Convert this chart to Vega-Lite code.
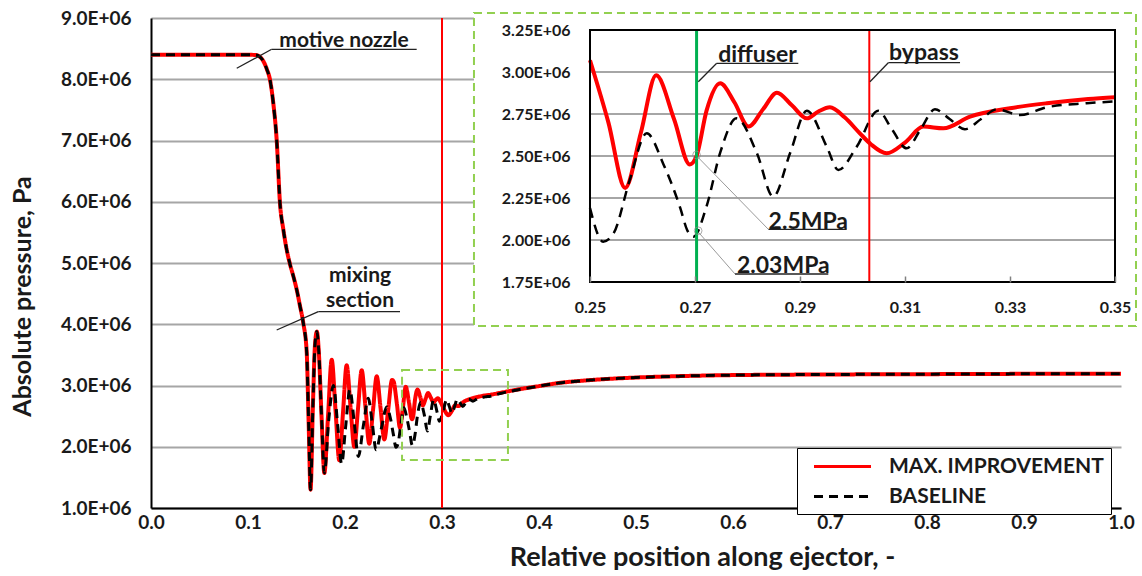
{
"$schema": "https://vega.github.io/schema/vega-lite/v6.json",
"width": 970, "height": 490,
"autosize": {"type": "none"},
"padding": {"left": 151, "top": 18, "right": 21, "bottom": 68},
"background": "white",
"datasets": {
"curves": [
{"s":"MAX. IMPROVEMENT","x":0,"p":8400000},{"s":"MAX. IMPROVEMENT","x":0.05,"p":8400000},{"s":"MAX. IMPROVEMENT","x":0.1,"p":8400000},{"s":"MAX. IMPROVEMENT","x":0.108,"p":8395000},{"s":"MAX. IMPROVEMENT","x":0.112,"p":8370000},{"s":"MAX. IMPROVEMENT","x":0.116,"p":8290000},{"s":"MAX. IMPROVEMENT","x":0.1195,"p":8160000},{"s":"MAX. IMPROVEMENT","x":0.1227,"p":7990000},{"s":"MAX. IMPROVEMENT","x":0.126,"p":7620000},{"s":"MAX. IMPROVEMENT","x":0.1296,"p":7000000},{"s":"MAX. IMPROVEMENT","x":0.133,"p":5970000},{"s":"MAX. IMPROVEMENT","x":0.1364,"p":5550000},{"s":"MAX. IMPROVEMENT","x":0.1395,"p":5250000},{"s":"MAX. IMPROVEMENT","x":0.1433,"p":4980000},{"s":"MAX. IMPROVEMENT","x":0.147,"p":4770000},{"s":"MAX. IMPROVEMENT","x":0.15,"p":4580000},{"s":"MAX. IMPROVEMENT","x":0.1536,"p":4300000},{"s":"MAX. IMPROVEMENT","x":0.157,"p":4020000},{"s":"MAX. IMPROVEMENT","x":0.1605,"p":3550000},{"s":"MAX. IMPROVEMENT","x":0.1625,"p":2400000},{"s":"MAX. IMPROVEMENT","x":0.1645,"p":1300000},{"s":"MAX. IMPROVEMENT","x":0.1668,"p":2600000},{"s":"MAX. IMPROVEMENT","x":0.169,"p":3650000},{"s":"MAX. IMPROVEMENT","x":0.171,"p":3880000},{"s":"MAX. IMPROVEMENT","x":0.173,"p":3550000},{"s":"MAX. IMPROVEMENT","x":0.1758,"p":2500000},{"s":"MAX. IMPROVEMENT","x":0.1787,"p":1570000},
{"s":"MAX. IMPROVEMENT","x":0.1825,"p":2500000},{"s":"MAX. IMPROVEMENT","x":0.1863,"p":3420000},{"s":"MAX. IMPROVEMENT","x":0.1902,"p":2600000},{"s":"MAX. IMPROVEMENT","x":0.1941,"p":1780000},{"s":"MAX. IMPROVEMENT","x":0.1979,"p":2550000},{"s":"MAX. IMPROVEMENT","x":0.2017,"p":3330000},{"s":"MAX. IMPROVEMENT","x":0.2057,"p":2650000},{"s":"MAX. IMPROVEMENT","x":0.2096,"p":2000000},{"s":"MAX. IMPROVEMENT","x":0.2134,"p":2620000},{"s":"MAX. IMPROVEMENT","x":0.2172,"p":3250000},{"s":"MAX. IMPROVEMENT","x":0.2211,"p":2650000},{"s":"MAX. IMPROVEMENT","x":0.225,"p":2050000},{"s":"MAX. IMPROVEMENT","x":0.2289,"p":2600000},{"s":"MAX. IMPROVEMENT","x":0.2327,"p":3150000},{"s":"MAX. IMPROVEMENT","x":0.2366,"p":2640000},{"s":"MAX. IMPROVEMENT","x":0.2405,"p":2120000},{"s":"MAX. IMPROVEMENT","x":0.2445,"p":2600000},{"s":"MAX. IMPROVEMENT","x":0.2485,"p":3090000},{"s":"MAX. IMPROVEMENT","x":0.25,"p":3070000},{"s":"MAX. IMPROVEMENT","x":0.2535,"p":2700000},{"s":"MAX. IMPROVEMENT","x":0.2567,"p":2310000},{"s":"MAX. IMPROVEMENT","x":0.2597,"p":2640000},{"s":"MAX. IMPROVEMENT","x":0.2626,"p":2980000},{"s":"MAX. IMPROVEMENT","x":0.266,"p":2720000},{"s":"MAX. IMPROVEMENT","x":0.269,"p":2450000},{"s":"MAX. IMPROVEMENT","x":0.2703,"p":2500000},{"s":"MAX. IMPROVEMENT","x":0.2722,"p":2770000},{"s":"MAX. IMPROVEMENT","x":0.2748,"p":2933000},{"s":"MAX. IMPROVEMENT","x":0.2775,"p":2820000},{"s":"MAX. IMPROVEMENT","x":0.2802,"p":2675000},{"s":"MAX. IMPROVEMENT","x":0.283,"p":2780000},{"s":"MAX. IMPROVEMENT","x":0.2856,"p":2877000},{"s":"MAX. IMPROVEMENT","x":0.2885,"p":2800000},{"s":"MAX. IMPROVEMENT","x":0.2913,"p":2724000},{"s":"MAX. IMPROVEMENT","x":0.2935,"p":2765000},{"s":"MAX. IMPROVEMENT","x":0.2957,"p":2790000},{"s":"MAX. IMPROVEMENT","x":0.2985,"p":2730000},{"s":"MAX. IMPROVEMENT","x":0.3014,"p":2635000},{"s":"MAX. IMPROVEMENT","x":0.3035,"p":2570000},{"s":"MAX. IMPROVEMENT","x":0.3065,"p":2516000},{"s":"MAX. IMPROVEMENT","x":0.31,"p":2580000},{"s":"MAX. IMPROVEMENT","x":0.3135,"p":2675000},{"s":"MAX. IMPROVEMENT","x":0.3173,"p":2665000},{"s":"MAX. IMPROVEMENT","x":0.3224,"p":2734000},{"s":"MAX. IMPROVEMENT","x":0.33,"p":2784000},{"s":"MAX. IMPROVEMENT","x":0.337,"p":2814000},{"s":"MAX. IMPROVEMENT","x":0.3449,"p":2839000},{"s":"MAX. IMPROVEMENT","x":0.35,"p":2850000},{"s":"MAX. IMPROVEMENT","x":0.36,"p":2880000},{"s":"MAX. IMPROVEMENT","x":0.38,"p":2940000},{"s":"MAX. IMPROVEMENT","x":0.4,"p":2990000},{"s":"MAX. IMPROVEMENT","x":0.42,"p":3040000},{"s":"MAX. IMPROVEMENT","x":0.45,"p":3085000},{"s":"MAX. IMPROVEMENT","x":0.5,"p":3130000},{"s":"MAX. IMPROVEMENT","x":0.55,"p":3155000},{"s":"MAX. IMPROVEMENT","x":0.6,"p":3170000},{"s":"MAX. IMPROVEMENT","x":0.7,"p":3180000},{"s":"MAX. IMPROVEMENT","x":0.8,"p":3185000},{"s":"MAX. IMPROVEMENT","x":0.9,"p":3190000},{"s":"MAX. IMPROVEMENT","x":1,"p":3190000},
{"s":"BASELINE","x":0,"p":8400000},{"s":"BASELINE","x":0.05,"p":8400000},{"s":"BASELINE","x":0.1,"p":8400000},{"s":"BASELINE","x":0.108,"p":8395000},{"s":"BASELINE","x":0.112,"p":8370000},{"s":"BASELINE","x":0.116,"p":8290000},{"s":"BASELINE","x":0.1195,"p":8160000},{"s":"BASELINE","x":0.1227,"p":7990000},{"s":"BASELINE","x":0.126,"p":7620000},{"s":"BASELINE","x":0.1296,"p":7000000},{"s":"BASELINE","x":0.133,"p":5970000},{"s":"BASELINE","x":0.1364,"p":5550000},{"s":"BASELINE","x":0.1395,"p":5250000},{"s":"BASELINE","x":0.1433,"p":4980000},{"s":"BASELINE","x":0.147,"p":4770000},{"s":"BASELINE","x":0.15,"p":4580000},{"s":"BASELINE","x":0.1536,"p":4300000},{"s":"BASELINE","x":0.157,"p":4020000},{"s":"BASELINE","x":0.1605,"p":3550000},{"s":"BASELINE","x":0.1625,"p":2400000},{"s":"BASELINE","x":0.1645,"p":1300000},{"s":"BASELINE","x":0.1668,"p":2600000},{"s":"BASELINE","x":0.169,"p":3650000},{"s":"BASELINE","x":0.171,"p":3880000},{"s":"BASELINE","x":0.173,"p":3550000},{"s":"BASELINE","x":0.1758,"p":2500000},{"s":"BASELINE","x":0.1787,"p":1570000},
{"s":"BASELINE","x":0.1833,"p":2450000},{"s":"BASELINE","x":0.188,"p":3000000},{"s":"BASELINE","x":0.1925,"p":2350000},{"s":"BASELINE","x":0.1965,"p":1720000},{"s":"BASELINE","x":0.2005,"p":2300000},{"s":"BASELINE","x":0.205,"p":2930000},{"s":"BASELINE","x":0.2095,"p":2400000},{"s":"BASELINE","x":0.2137,"p":1840000},{"s":"BASELINE","x":0.219,"p":2350000},{"s":"BASELINE","x":0.224,"p":2790000},{"s":"BASELINE","x":0.228,"p":2400000},{"s":"BASELINE","x":0.232,"p":1950000},{"s":"BASELINE","x":0.2375,"p":2300000},{"s":"BASELINE","x":0.243,"p":2650000},{"s":"BASELINE","x":0.247,"p":2450000},{"s":"BASELINE","x":0.25,"p":2190000},{"s":"BASELINE","x":0.2525,"p":1990000},{"s":"BASELINE","x":0.2545,"p":2040000},{"s":"BASELINE","x":0.2575,"p":2350000},{"s":"BASELINE","x":0.2608,"p":2635000},{"s":"BASELINE","x":0.264,"p":2450000},{"s":"BASELINE","x":0.2672,"p":2190000},{"s":"BASELINE","x":0.2685,"p":2060000},{"s":"BASELINE","x":0.2697,"p":2020000},{"s":"BASELINE","x":0.2722,"p":2200000},{"s":"BASELINE","x":0.2748,"p":2520000},{"s":"BASELINE","x":0.2779,"p":2724000},{"s":"BASELINE","x":0.2818,"p":2516000},{"s":"BASELINE","x":0.2849,"p":2258000},{"s":"BASELINE","x":0.2881,"p":2516000},{"s":"BASELINE","x":0.2913,"p":2769000},{"s":"BASELINE","x":0.2951,"p":2555000},{"s":"BASELINE","x":0.2973,"p":2417000},{"s":"BASELINE","x":0.3008,"p":2555000},{"s":"BASELINE","x":0.3049,"p":2769000},{"s":"BASELINE","x":0.3075,"p":2660000},{"s":"BASELINE","x":0.3103,"p":2546000},{"s":"BASELINE","x":0.313,"p":2660000},{"s":"BASELINE","x":0.3157,"p":2778000},{"s":"BASELINE","x":0.3185,"p":2720000},{"s":"BASELINE","x":0.3214,"p":2659000},{"s":"BASELINE","x":0.3245,"p":2720000},{"s":"BASELINE","x":0.3275,"p":2778000},{"s":"BASELINE","x":0.3319,"p":2744000},{"s":"BASELINE","x":0.337,"p":2790000},{"s":"BASELINE","x":0.3446,"p":2814000},{"s":"BASELINE","x":0.35,"p":2825000},{"s":"BASELINE","x":0.36,"p":2870000},{"s":"BASELINE","x":0.38,"p":2935000},{"s":"BASELINE","x":0.4,"p":2990000},{"s":"BASELINE","x":0.42,"p":3040000},{"s":"BASELINE","x":0.45,"p":3085000},{"s":"BASELINE","x":0.5,"p":3130000},{"s":"BASELINE","x":0.55,"p":3155000},{"s":"BASELINE","x":0.6,"p":3170000},{"s":"BASELINE","x":0.7,"p":3180000},{"s":"BASELINE","x":0.8,"p":3185000},{"s":"BASELINE","x":0.9,"p":3190000},{"s":"BASELINE","x":1,"p":3190000}
],
"ygrid": [{"p":2000000,"x":0.25,"x2":0.35},{"p":2250000,"x":0.25,"x2":0.35},{"p":2500000,"x":0.25,"x2":0.35},{"p":2750000,"x":0.25,"x2":0.35},{"p":3000000,"x":0.25,"x2":0.35}],
"vlines": [
{"v":"main","k":"red","x":0.3,"y":1000000,"y2":9000000},
{"v":"inset","k":"green","x":0.2703,"y":1750000,"y2":3250000},
{"v":"inset","k":"red","x":0.3032,"y":1750000,"y2":3250000}
],
"boxes": [
{"v":"main","x":0.2588,"x2":0.368,"y":1784000,"y2":3253000},
{"v":"outer","x":0.2279,"x2":0.354,"y":1488000,"y2":3351000},
{"v":"inset","x":0.25,"x2":0.35,"y":1750000,"y2":3250000}
],
"notes": [
{"v":"main","k":"b","x":0.1244,"y":8489000,"x2":0.2739,"y2":8489000},
{"v":"main","k":"b","x":0.1244,"y":8489000,"x2":0.0884,"y2":8179000},
{"v":"main","k":"b","x":0.1725,"y":4205000,"x2":0.2567,"y2":4205000},
{"v":"main","k":"b","x":0.1725,"y":4205000,"x2":0.1296,"y2":3906000},
{"v":"inset","k":"b","x":0.27413,"y":3051800,"x2":0.28968,"y2":3051800},
{"v":"inset","k":"b","x":0.27413,"y":3051800,"x2":0.27063,"y2":2942300},
{"v":"inset","k":"b","x":0.30682,"y":3055400,"x2":0.32048,"y2":3055400},
{"v":"inset","k":"b","x":0.30682,"y":3055400,"x2":0.30333,"y2":2942300},
{"v":"inset","k":"b","x":0.28397,"y":2063700,"x2":0.29889,"y2":2063700},
{"v":"inset","k":"g","x":0.28397,"y":2063700,"x2":0.27052,"y2":2494000},
{"v":"inset","k":"b","x":0.27762,"y":1797600,"x2":0.29539,"y2":1797600},
{"v":"inset","k":"g","x":0.27762,"y":1797600,"x2":0.27075,"y2":2043000}
],
"circles": [{"x":0.2703,"p":2506000},{"x":0.2706,"p":2055000}],
"labels": [
{"v":"main","t":"motive nozzle","x":0.199,"y":8629000},
{"v":"main","t":"mixing","x":0.2155,"y":4790000},
{"v":"main","t":"section","x":0.2155,"y":4380000},
{"v":"inset","t":"diffuser","x":0.2819,"y":3101000},
{"v":"inset","t":"bypass","x":0.31362,"y":3111000},
{"v":"inset","t":"2.5MPa","x":0.29158,"y":2109000},
{"v":"inset","t":"2.03MPa","x":0.28682,"y":1845000}
]
},
"layer": [
{"layer": [
 {"data": {"name": "curves"}, "transform": [{"filter": "datum.s === 'MAX. IMPROVEMENT'"}],
  "mark": {"type": "line", "strokeWidth": 4, "interpolate": "monotone"},
  "encoding": {
   "x": {"field": "x", "type": "quantitative", "scale": {"domain": [0, 1], "nice": false, "zero": false},
     "axis": {"title": "Relative position along ejector, -", "values": [0,0.1,0.2,0.3,0.4,0.5,0.6,0.7,0.8,0.9,1], "format": ".1f", "grid": false, "ticks": false, "domainColor": "#000000", "domainWidth": 2, "labelFontSize": 19, "labelPadding": 5, "labelFlush": false, "labelOverlap": false, "titleFontSize": 27, "titleX": 551, "titleY": 49, "titleBaseline": "middle", "titleAlign": "center"}},
   "y": {"field": "p", "type": "quantitative", "scale": {"domain": [1000000, 9000000], "nice": false, "zero": false},
     "axis": {"title": "Absolute pressure, Pa", "values": [1000000,2000000,3000000,4000000,5000000,6000000,7000000,8000000,9000000], "labelExpr": "format(datum.value/1000000, '.1f') + 'E+06'", "grid": true, "gridColor": "#a6a6a6", "gridWidth": 2, "ticks": false, "domainColor": "#000000", "domainWidth": 2, "labelFontSize": 19, "labelPadding": 20, "labelFlush": false, "labelOverlap": false, "titleFontSize": 25, "titleX": -129, "titleY": 278, "titleBaseline": "middle", "titleAlign": "center"}},
   "color": {"field": "s", "type": "nominal", "scale": {"domain": ["MAX. IMPROVEMENT", "BASELINE"], "range": ["#ff0000", "#000000"]},
     "legend": {"orient": "none", "legendX": 646, "legendY": 430, "title": null, "fillColor": "#ffffff", "strokeColor": "#000000", "padding": 7, "symbolType": "M-2.85,0L2.85,0", "symbolSize": 400, "symbolStrokeWidth": 3, "symbolOffset": 27, "labelOffset": 35, "rowPadding": 8, "labelFont": "Lato", "labelFontSize": 21, "labelFontWeight": "bold", "labelColor": "#1a1a1a", "labelLimit": 400}},
   "strokeDash": {"field": "s", "type": "nominal", "scale": {"domain": ["MAX. IMPROVEMENT", "BASELINE"], "range": [[1, 0], [9, 6]]},
     "legend": {"orient": "none", "legendX": 646, "legendY": 430, "title": null, "fillColor": "#ffffff", "strokeColor": "#000000", "padding": 7, "symbolType": "M-2.85,0L2.85,0", "symbolSize": 400, "symbolStrokeWidth": 3, "symbolOffset": 27, "labelOffset": 35, "rowPadding": 8, "labelFont": "Lato", "labelFontSize": 21, "labelFontWeight": "bold", "labelColor": "#1a1a1a", "labelLimit": 400}}
  }},
 {"data": {"name": "curves"}, "transform": [{"filter": "datum.s === 'BASELINE'"}],
  "mark": {"type": "line", "strokeWidth": 3, "interpolate": "monotone"},
  "encoding": {
   "x": {"field": "x", "type": "quantitative"},
   "y": {"field": "p", "type": "quantitative"},
   "color": {"field": "s", "type": "nominal"},
   "strokeDash": {"field": "s", "type": "nominal"}
  }},
 {"data": {"name": "vlines"}, "transform": [{"filter": "datum.v === 'main'"}],
  "mark": {"type": "rule", "color": "#ff0000", "strokeWidth": 2},
  "encoding": {"x": {"field": "x", "type": "quantitative"}, "y": {"field": "y", "type": "quantitative"}, "y2": {"field": "y2"}}},
 {"data": {"name": "boxes"}, "transform": [{"filter": "datum.v === 'main'"}],
  "mark": {"type": "rect", "filled": false, "color": "#92d050", "strokeWidth": 2, "strokeDash": [8, 5]},
  "encoding": {"x": {"field": "x", "type": "quantitative"}, "x2": {"field": "x2"}, "y": {"field": "y", "type": "quantitative"}, "y2": {"field": "y2"}}},
 {"data": {"name": "notes"}, "transform": [{"filter": "datum.v === 'main'"}],
  "mark": {"type": "rule", "color": "#222222", "strokeWidth": 1.3},
  "encoding": {"x": {"field": "x", "type": "quantitative"}, "x2": {"field": "x2"}, "y": {"field": "y", "type": "quantitative"}, "y2": {"field": "y2"}}},
 {"data": {"name": "labels"}, "transform": [{"filter": "datum.v === 'main'"}],
  "mark": {"type": "text", "font": "Lato", "fontWeight": "bold", "fontSize": 21, "color": "#1a1a1a", "align": "center", "baseline": "middle"},
  "encoding": {"x": {"field": "x", "type": "quantitative"}, "y": {"field": "y", "type": "quantitative"}, "text": {"field": "t"}}}
]},
{"layer": [
 {"data": {"name": "boxes"}, "transform": [{"filter": "datum.v === 'outer'"}],
  "mark": {"type": "rect", "fill": "#ffffff", "stroke": "#92d050", "strokeWidth": 2, "strokeDash": [8, 5]},
  "encoding": {
   "x": {"field": "x", "type": "quantitative", "scale": {"domain": [0.25, 0.35], "range": [439, 964], "nice": false, "zero": false},
     "axis": {"orient": "bottom", "offset": -226, "title": null, "values": [0.25,0.27,0.29,0.31,0.33,0.35], "format": ".2f", "grid": false, "domain": false, "ticks": true, "tickSize": -6, "tickColor": "#808080", "tickWidth": 1.5, "labelFontSize": 16, "labelPadding": 23, "labelFlush": false, "labelOverlap": false, "zindex": 1}},
   "x2": {"field": "x2"},
   "y": {"field": "y", "type": "quantitative", "scale": {"domain": [1750000, 3250000], "range": [264, 12], "nice": false, "zero": false},
     "axis": {"orient": "left", "offset": -439, "title": null, "values": [1750000,2000000,2250000,2500000,2750000,3000000,3250000], "labelExpr": "format(datum.value/1000000, '.2f') + 'E+06'", "grid": false, "domain": false, "ticks": false, "labelFontSize": 16, "labelPadding": 20, "labelFlush": false, "labelOverlap": false, "zindex": 1}},
   "y2": {"field": "y2"}
  }},
 {"data": {"name": "ygrid"},
  "mark": {"type": "rule", "color": "#a6a6a6", "strokeWidth": 2},
  "encoding": {"x": {"field": "x", "type": "quantitative"}, "x2": {"field": "x2"}, "y": {"field": "p", "type": "quantitative"}}},
 {"data": {"name": "curves"}, "transform": [{"filter": "datum.s === 'MAX. IMPROVEMENT' && datum.x >= 0.25 && datum.x <= 0.35"}],
  "mark": {"type": "line", "strokeWidth": 4, "color": "#ff0000", "interpolate": "monotone"},
  "encoding": {"x": {"field": "x", "type": "quantitative"}, "y": {"field": "p", "type": "quantitative"}}},
 {"data": {"name": "curves"}, "transform": [{"filter": "datum.s === 'BASELINE' && datum.x >= 0.25 && datum.x <= 0.35"}],
  "mark": {"type": "line", "strokeWidth": 2.5, "color": "#000000", "strokeDash": [10, 7], "interpolate": "monotone"},
  "encoding": {"x": {"field": "x", "type": "quantitative"}, "y": {"field": "p", "type": "quantitative"}}},
 {"data": {"name": "vlines"}, "transform": [{"filter": "datum.v === 'inset' && datum.k === 'green'"}],
  "mark": {"type": "rule", "color": "#00b050", "strokeWidth": 3},
  "encoding": {"x": {"field": "x", "type": "quantitative"}, "y": {"field": "y", "type": "quantitative"}, "y2": {"field": "y2"}}},
 {"data": {"name": "vlines"}, "transform": [{"filter": "datum.v === 'inset' && datum.k === 'red'"}],
  "mark": {"type": "rule", "color": "#ff0000", "strokeWidth": 2},
  "encoding": {"x": {"field": "x", "type": "quantitative"}, "y": {"field": "y", "type": "quantitative"}, "y2": {"field": "y2"}}},
 {"data": {"name": "boxes"}, "transform": [{"filter": "datum.v === 'inset'"}],
  "mark": {"type": "rect", "filled": false, "color": "#000000", "strokeWidth": 2},
  "encoding": {"x": {"field": "x", "type": "quantitative"}, "x2": {"field": "x2"}, "y": {"field": "y", "type": "quantitative"}, "y2": {"field": "y2"}}},
 {"data": {"name": "notes"}, "transform": [{"filter": "datum.v === 'inset' && datum.k === 'b'"}],
  "mark": {"type": "rule", "color": "#222222", "strokeWidth": 1.3},
  "encoding": {"x": {"field": "x", "type": "quantitative"}, "x2": {"field": "x2"}, "y": {"field": "y", "type": "quantitative"}, "y2": {"field": "y2"}}},
 {"data": {"name": "notes"}, "transform": [{"filter": "datum.v === 'inset' && datum.k === 'g'"}],
  "mark": {"type": "rule", "color": "#9a9a9a", "strokeWidth": 1},
  "encoding": {"x": {"field": "x", "type": "quantitative"}, "x2": {"field": "x2"}, "y": {"field": "y", "type": "quantitative"}, "y2": {"field": "y2"}}},
 {"data": {"name": "circles"},
  "mark": {"type": "point", "shape": "circle", "filled": false, "color": "#8a8a8a", "size": 60, "strokeWidth": 1},
  "encoding": {"x": {"field": "x", "type": "quantitative"}, "y": {"field": "p", "type": "quantitative"}}},
 {"data": {"name": "labels"}, "transform": [{"filter": "datum.v === 'inset'"}],
  "mark": {"type": "text", "font": "Lato", "fontWeight": "bold", "fontSize": 23, "color": "#1a1a1a", "align": "center", "baseline": "middle"},
  "encoding": {"x": {"field": "x", "type": "quantitative"}, "y": {"field": "y", "type": "quantitative"}, "text": {"field": "t"}}}
]}
],
"resolve": {"scale": {"x": "independent", "y": "independent"}},
"config": {
 "view": {"stroke": null},
 "font": "Lato",
 "axis": {"labelFont": "Lato", "labelFontWeight": "bold", "labelColor": "#1a1a1a", "titleFont": "Lato", "titleFontWeight": "bold", "titleColor": "#1a1a1a"}
}
}
